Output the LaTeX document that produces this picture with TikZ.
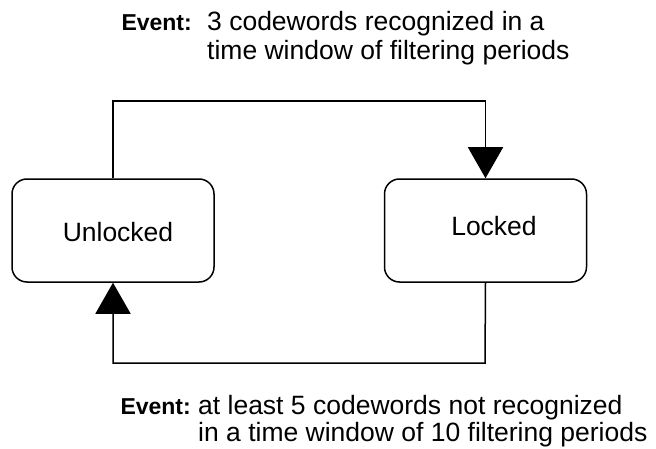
\documentclass[tikz,border=0pt]{standalone}
\usepackage{fontspec}
\setmainfont{Liberation Sans}
\usetikzlibrary{arrows.meta}
\begin{document}
\begin{tikzpicture}[x=1pt,y=1pt,
  statebox/.style={draw,line width=1.5pt,rounded corners=15pt,minimum width=202pt,minimum height=103pt,inner sep=0pt},
  txt/.style={inner sep=0pt,font=\fontsize{26.5}{30}\selectfont},
  evt/.style={inner sep=0pt,font=\fontsize{23}{26}\selectfont\bfseries},
  conn/.style={line width=1.5pt,-{Triangle[length=31pt,width=35pt]}}]
\useasboundingbox (0,0) rectangle (656,448);
\node[statebox] (u) at (113,217.5) {};
\node[statebox] (l) at (485.5,217.5) {};
\node[txt] (ut) at (118,216) {Unlocked};
\node[txt] (lt) at (494,222) {Locked};
\coordinate (tl) at (113,347);
\coordinate (bl) at (485,85);
\draw[conn] (u.north) -- (tl) -| (l.north);
\draw[conn] (l.south) -- (bl) -| (u.south);
\node[evt,anchor=base east] (e1) at (192,417) {Event:};
\node[txt,anchor=base west] (t1a) at (207,417) {3 codewords recognized in a};
\node[txt,anchor=base west] (t1b) at (207,388) {time window of filtering periods};
\node[evt,anchor=base east] (e2) at (191,34) {Event:};
\node[txt,anchor=base west] (t2a) at (198,34) {at least 5 codewords not recognized};
\node[txt,anchor=base west] (t2b) at (198,7) {in a time window of 10 filtering periods};
\end{tikzpicture}
\end{document}
